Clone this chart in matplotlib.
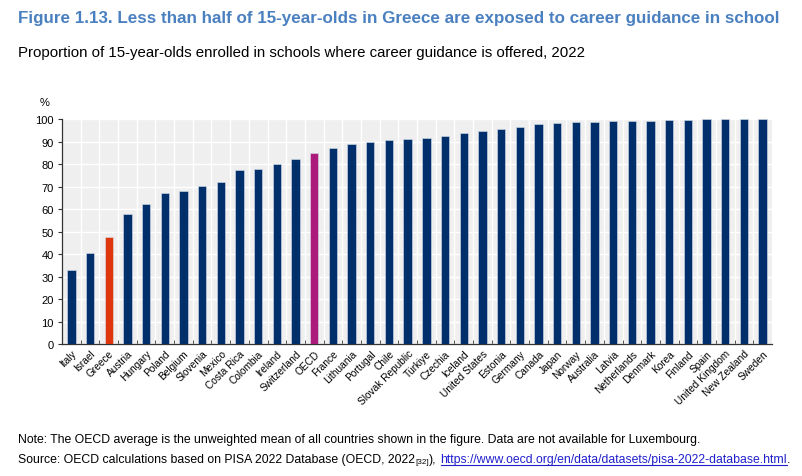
import numpy as np
import matplotlib
matplotlib.use("Agg")
import matplotlib.pyplot as plt
from matplotlib import font_manager
from matplotlib.lines import Line2D

names = {f.name for f in font_manager.fontManager.ttflist}
NARROW = "Liberation Sans Narrow" if "Liberation Sans Narrow" in names else "Liberation Sans"
plt.rcParams["font.family"] = ["Liberation Sans", "DejaVu Sans"]

# Data (%)
countries = ["Italy", "Israel", "Greece", "Austria", "Hungary", "Poland", "Belgium",
             "Slovenia", "Mexico", "Costa Rica", "Colombia", "Ireland", "Switzerland",
             "OECD", "France", "Lithuania", "Portugal", "Chile", "Slovak Republic",
             "Türkiye", "Czechia", "Iceland", "United States", "Estonia", "Germany",
             "Canada", "Japan", "Norway", "Australia", "Latvia", "Netherlands",
             "Denmark", "Korea", "Finland", "Spain", "United Kingdom", "New Zealand",
             "Sweden"]
values = [33.0, 40.4, 47.6, 57.9, 62.5, 67.2, 68.0, 70.4, 72.0, 77.3, 77.9, 80.1,
          82.6, 85.0, 87.1, 88.9, 90.0, 90.7, 91.2, 91.6, 92.8, 93.8, 94.7, 95.6,
          96.6, 97.9, 98.5, 98.9, 99.1, 99.3, 99.4, 99.5, 99.8, 99.9, 100.0, 100.0,
          100.0, 100.0]

NAVY = "#002F6C"
RED = "#E0360E"
MAGENTA = "#AC1A7B"
colors = [RED if c == "Greece" else MAGENTA if c == "OECD" else NAVY for c in countries]

fig = plt.figure(figsize=(8.02, 4.77), dpi=100)
ax = fig.add_axes([0.0773, 0.2767, 0.8853, 0.4707])
x = np.arange(len(countries))

ax.set_facecolor("#EFEFEF")
ax.bar(x, values, width=0.45, color=colors, edgecolor="#d8e0ea", linewidth=0.4, zorder=3)

ax.set_xlim(-0.5, len(countries) - 0.5)
ax.set_ylim(0, 100)
ax.set_yticks(np.arange(0, 101, 10))
ax.set_xticks(x)
ax.set_xticklabels(countries, rotation=45, ha="right", rotation_mode="anchor",
                   fontsize=7.3, family=NARROW)
ax.tick_params(axis="x", length=0, pad=3)
ax.set_xticks(x[:-1] + 0.5, minor=True)
ax.tick_params(axis="x", which="minor", direction="in", length=3, color="#333333")
ax.tick_params(axis="y", labelsize=8, length=3, color="#333333", pad=3)
ax.grid(axis="y", color="white", linewidth=1.0, zorder=1)
ax.grid(axis="x", which="minor", color="white", linewidth=1.0, zorder=1)
for s in ["top", "right"]:
    ax.spines[s].set_visible(False)
for s in ["left", "bottom"]:
    ax.spines[s].set_color("#333333")
    ax.spines[s].set_linewidth(0.9)

fig.text(0.056, 1 - 103 / 477, "%", fontsize=8, ha="center", va="center")

fig.canvas.draw()
r = fig.canvas.get_renderer()
W = fig.bbox.width


def fit(t, width_px):
    # shrink/grow the font so the text spans the width seen in the reference
    w = t.get_window_extent(r).width
    t.set_fontsize(t.get_fontsize() * width_px / w)
    return t


fit(fig.text(18 / W, 1 - 18 / 477,
             "Figure 1.13. Less than half of 15-year-olds in Greece are exposed to career guidance in school",
             fontsize=13, fontweight="bold", color="#4A80C0", family=NARROW, va="center"), 760)
fit(fig.text(18 / W, 1 - 53 / 477,
             "Proportion of 15-year-olds enrolled in schools where career guidance is offered, 2022",
             fontsize=11, va="center"), 567)
note = fit(fig.text(18 / W, 1 - 440 / 477,
                    "Note: The OECD average is the unweighted mean of all countries shown in the figure. "
                    "Data are not available for Luxembourg.", fontsize=9, va="center"), 682)
fs = note.get_fontsize()

# Source line with subscript reference and hyperlink
ys = 1 - 460 / 477
t1 = fig.text(18 / W, ys, "Source: OECD calculations based on PISA 2022 Database (OECD, 2022",
              fontsize=fs, va="center")
x1 = t1.get_window_extent(r).x1 / W
t2 = fig.text(x1, ys - 0.006, "[32]", fontsize=fs * 0.65, va="center")
x2 = t2.get_window_extent(r).x1 / W
t3 = fig.text(x2, ys, "),", fontsize=fs, va="center")
x3 = (t3.get_window_extent(r).x1 + 4) / W
t4 = fig.text(x3, ys, "https://www.oecd.org/en/data/datasets/pisa-2022-database.html",
              fontsize=fs, va="center", color="#1F1FCC")
bb = t4.get_window_extent(r)
uy = (bb.y0 + 0.5) / fig.bbox.height
fig.add_artist(Line2D([(bb.x0 + 1) / W, bb.x1 / W], [uy, uy], transform=fig.transFigure,
                      color="#1F1FCC", lw=0.8))
fig.text(bb.x1 / W, ys, ".", fontsize=fs, va="center")

fig.savefig("out.png", dpi=100)
